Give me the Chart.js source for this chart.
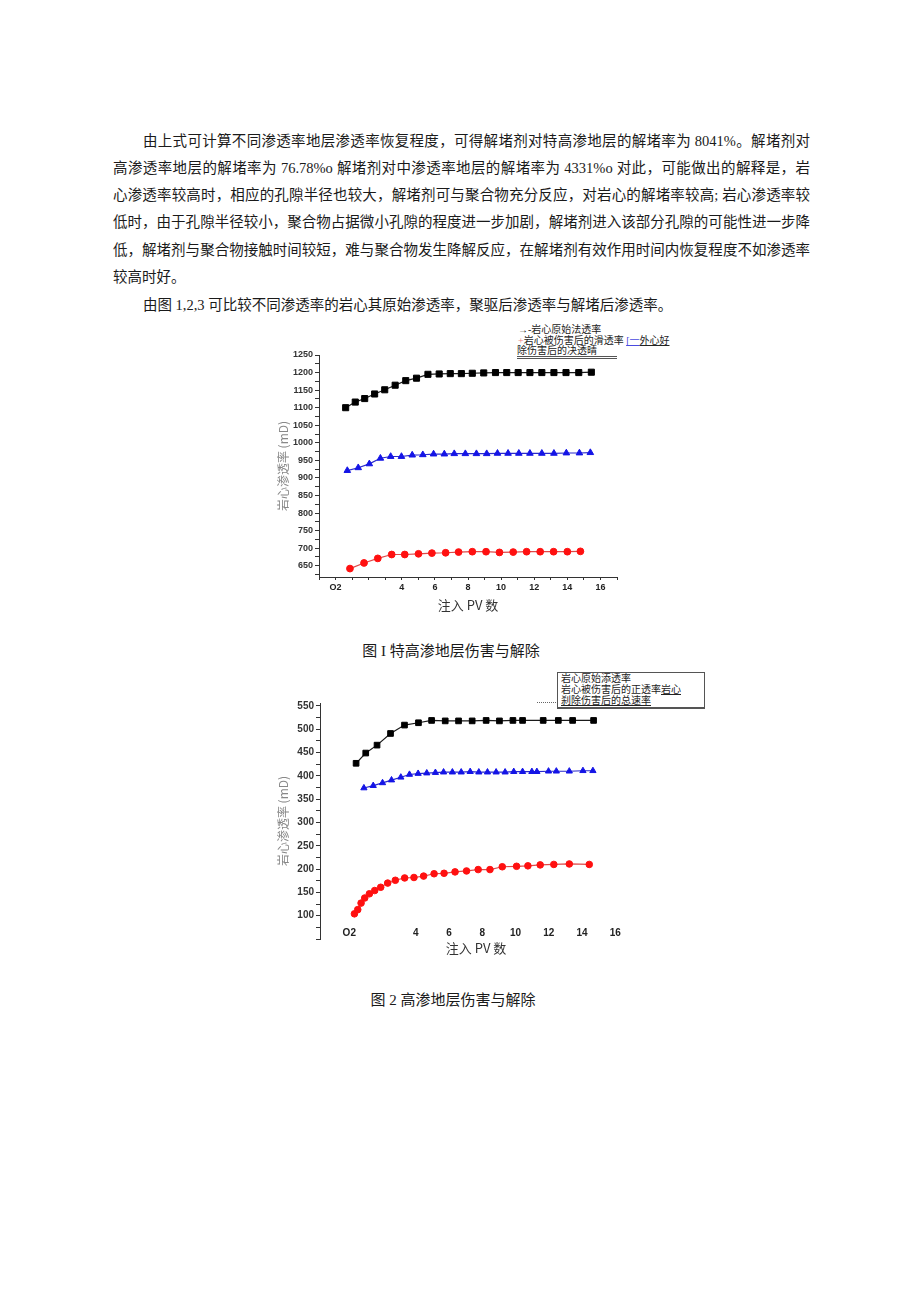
<!DOCTYPE html>
<html>
<head>
<meta charset="utf-8">
<script src="https://cdn.jsdelivr.net/npm/chart.js@4.4.1/dist/chart.umd.min.js"></script>
<style>
  html, body { margin: 0; padding: 0; background: #fff; }
  body { width: 920px; height: 1301px; position: relative; overflow: hidden;
         font-family: "Liberation Serif", "Noto Sans CJK SC", serif; color: #1a1a1a; }
  .line { position: absolute; font-size: 14.5px; line-height: 20px; white-space: nowrap; }
  .full { text-align: justify; text-align-last: justify; white-space: normal; }
  .caption { position: absolute; font-size: 15px; line-height: 20px; width: 300px; text-align: center; }
  canvas { position: absolute; }
  .leg { position: absolute; font-size: 10px; line-height: 11px; white-space: nowrap; color: #222; }
</style>
</head>
<body>

<div class="line full" style="left:143px; top:131px; width:667px;">由上式可计算不同渗透率地层渗透率恢复程度，可得解堵剂对特高渗地层的解堵率为 8041%。解堵剂对</div>
<div class="line full" style="left:113px; top:158px; width:697px;">高渗透率地层的解堵率为 76.78%o 解堵剂对中渗透率地层的解堵率为 4331%o 对此，可能做出的解释是，岩</div>
<div class="line full" style="left:113px; top:185px; width:697px;">心渗透率较高时，相应的孔隙半径也较大，解堵剂可与聚合物充分反应，对岩心的解堵率较高; 岩心渗透率较</div>
<div class="line full" style="left:113px; top:212px; width:697px;">低时，由于孔隙半径较小，聚合物占据微小孔隙的程度进一步加剧，解堵剂进入该部分孔隙的可能性进一步降</div>
<div class="line full" style="left:113px; top:240px; width:697px;">低，解堵剂与聚合物接触时间较短，难与聚合物发生降解反应，在解堵剂有效作用时间内恢复程度不如渗透率</div>
<div class="line" style="left:113px; top:267px;">较高时好。</div>
<div class="line" style="left:143px; top:295px;">由图 1,2,3 可比较不同渗透率的岩心其原始渗透率，聚驱后渗透率与解堵后渗透率。</div>

<!-- chart 1 legend (text as in the scan) -->
<div class="leg" style="left:518px; top:324px;">→-岩心原始法透率</div>
<div class="leg" style="left:518px; top:335px;"><span style="color:#f08080">+</span>岩心被伤害后的滑透率 <span style="color:#4a4ae0; text-decoration:underline">[一</span><span style="text-decoration:underline">外心好</span></div>
<div class="leg" style="left:517px; top:345px; width:100px; border-bottom:3px double #555;">除伤害后的决透晴</div>

<canvas id="chart1" width="400" height="300" style="left:250px; top:330px;"></canvas>
<div class="caption" style="left:301px; top:641px;">图 I 特高渗地层伤害与解除</div>

<!-- chart 2 legend -->
<div style="position:absolute; left:537px; top:702px; width:83px; height:0; border-top:1px dotted #666;"></div>
<div style="position:absolute; left:557px; top:672px; width:146px; height:34px; border:1px solid #555; border-bottom:2px double #555; background:#fff;"></div>
<div class="leg" style="left:561px; top:673px;">岩心原始添透率</div>
<div class="leg" style="left:561px; top:684px;">岩心被伤害后的正透率<span style="text-decoration:underline">岩心</span></div>
<div class="leg" style="left:561px; top:695px; text-decoration:underline;">刹除伤害后的总速率</div>

<canvas id="chart2" width="400" height="310" style="left:250px; top:660px;"></canvas>
<div class="caption" style="left:303px; top:990px;">图 2 高渗地层伤害与解除</div>

<script>
// ---- figure 1: extra-high permeability layer ----
var black1X = [0.61, 1.19, 1.76, 2.36, 2.97, 3.60, 4.24, 4.89, 5.58, 6.26, 6.93, 7.60, 8.26, 8.95, 9.66, 10.34, 11.03, 11.74, 12.46, 13.19, 13.92, 14.69, 15.45];
var black1Y = [1100, 1116, 1126, 1139, 1151, 1164, 1177, 1184, 1195, 1196, 1197, 1197, 1198, 1199, 1200, 1200, 1200, 1200, 1200, 1200, 1200, 1200, 1201];
var blue1X = [0.71, 1.37, 2.04, 2.71, 3.33, 3.98, 4.63, 5.27, 5.92, 6.57, 7.17, 7.84, 8.51, 9.13, 9.78, 10.42, 11.07, 11.74, 12.46, 13.19, 13.94, 14.73, 15.39];
var blue1Y = [921, 929, 940, 956, 961, 961, 965, 966, 968, 968, 969, 969, 969, 969, 970, 970, 970, 970, 970, 970, 971, 971, 972];
var red1X = [0.87, 1.72, 2.55, 3.39, 4.18, 5.01, 5.82, 6.65, 7.43, 8.26, 9.09, 9.90, 10.73, 11.54, 12.36, 13.17, 14.00, 14.79];
var red1Y = [642, 658, 671, 682, 682, 684, 686, 687, 689, 690, 690, 688, 689, 690, 690, 690, 690, 691];
var yTicks1 = [625, 650, 675, 700, 725, 750, 775, 800, 825, 850, 875, 900, 925, 950, 975, 1000, 1025, 1050, 1075, 1100, 1125, 1150, 1175, 1200, 1225, 1250];
var yLabels1 = [650, 700, 750, 800, 850, 900, 950, 1000, 1050, 1100, 1150, 1200, 1250];

// ---- figure 2: high permeability layer ----
var black2X = [0.41, 0.99, 1.67, 2.48, 3.32, 4.16, 4.95, 5.77, 6.57, 7.39, 8.23, 9.03, 9.84, 10.42, 11.66, 12.57, 13.43, 14.69];
var black2Y = [427, 449, 466, 491, 509, 514, 519, 518, 518, 518, 519, 518, 519, 519, 519, 519, 519, 519];
var blue2X = [0.88, 1.44, 2.00, 2.54, 3.10, 3.62, 4.14, 4.66, 5.18, 5.67, 6.20, 6.73, 7.27, 7.79, 8.31, 8.83, 9.37, 9.89, 10.42, 10.98, 11.28, 11.98, 12.45, 13.23, 14.05, 14.65];
var blue2Y = [374, 379, 385, 391, 397, 403, 405, 406, 407, 408, 408, 408, 409, 408, 408, 408, 408, 409, 409, 409, 409, 410, 410, 410, 411, 411];
var red2X = [0.31, 0.51, 0.71, 0.93, 1.21, 1.53, 1.89, 2.31, 2.77, 3.33, 3.89, 4.47, 5.10, 5.70, 6.36, 7.05, 7.75, 8.46, 9.20, 10.06, 10.74, 11.48, 12.30, 13.23, 14.43];
var red2Y = [104, 113, 127, 138, 147, 154, 161, 170, 176, 181, 182, 185, 190, 191, 194, 196, 199, 199, 205, 206, 207, 209, 210, 211, 210];
var yTicks2 = [50, 75, 100, 125, 150, 175, 200, 225, 250, 275, 300, 325, 350, 375, 400, 425, 450, 475, 500, 525, 550];
var yLabels2 = [100, 150, 200, 250, 300, 350, 400, 450, 500, 550];

// shared x axis labels ("O2" is how the scan prints the origin)
var xTickValues = [0, 4, 6, 8, 10, 12, 14, 16];
var xTickText = ['O2', '4', '6', '8', '10', '12', '14', '16'];
var xMinorTicks = [-1, 0, 1, 2, 3, 4, 5, 6, 7, 8, 9, 10, 11, 12, 13, 14, 15, 16, 17];

var yTitle = '岩心渗透率 (mD)';
var xTitle = '注入 PV 数';

function points(xs, ys) {
  return xs.map(function (x, i) { return {x: x, y: ys[i]}; });
}

function series(xs, ys, style, color, lineColor, radius) {
  return {
    data: points(xs, ys),
    borderColor: lineColor,
    borderWidth: 1.2,
    backgroundColor: color,
    pointBackgroundColor: color,
    pointBorderColor: color,
    pointBorderWidth: 1,
    pointStyle: style,
    pointRadius: radius,
    tension: 0,
    fill: false
  };
}

function xLabel(value) {
  var idx = xTickValues.indexOf(value);
  return idx >= 0 ? xTickText[idx] : '';
}

function makeChart(id, cfg) {
  var ctx = document.getElementById(id).getContext('2d');
  return new Chart(ctx, {
    type: 'line',
    data: {
      datasets: [
        series(cfg.blackX, cfg.blackY, 'rect', '#000000', '#1a1a1a', cfg.sq),
        series(cfg.blueX, cfg.blueY, 'triangle', '#1414e6', '#2a2acc', cfg.tri),
        series(cfg.redX, cfg.redY, 'circle', '#ff1010', '#e04848', cfg.dot)
      ]
    },
    options: {
      responsive: false,
      animation: false,
      devicePixelRatio: 1,
      layout: { padding: cfg.padding },
      plugins: { legend: { display: false }, tooltip: { enabled: false } },
      scales: {
        x: {
          type: 'linear',
          min: cfg.xMin,
          max: 17,
          afterBuildTicks: function (scale) {
            scale.ticks = xMinorTicks.filter(function (v) { return v >= cfg.xMin; })
              .map(function (v) { return {value: v}; });
          },
          afterFit: function (scale) { scale.height = cfg.xHeight; },
          border: { display: cfg.xBorder, color: '#333', width: 1 },
          grid: { drawOnChartArea: false, drawTicks: cfg.xBorder, tickLength: 3, color: '#333' },
          ticks: {
            autoSkip: false,
            maxRotation: 0,
            mirror: cfg.xMirror,
            padding: cfg.xPad,
            color: '#222',
            font: { family: 'Liberation Sans', weight: 'bold', size: cfg.tickSize },
            callback: xLabel
          },
          title: {
            display: true,
            text: xTitle,
            color: '#333',
            font: { family: 'Noto Sans CJK SC', size: 13 },
            padding: { top: 0, bottom: cfg.xTitlePad }
          }
        },
        y: {
          type: 'linear',
          min: cfg.yMin,
          max: cfg.yMax,
          afterBuildTicks: function (scale) {
            scale.ticks = cfg.yTicks.map(function (v) { return {value: v}; });
          },
          afterFit: function (scale) { scale.width = cfg.yWidth; },
          border: { display: true, color: '#333', width: 1 },
          grid: { drawOnChartArea: false, tickLength: 4, color: '#333' },
          ticks: {
            autoSkip: false,
            padding: 2,
            color: '#333',
            font: { family: 'Liberation Sans', weight: 'bold', size: cfg.tickSize },
            callback: function (value) {
              return cfg.yLabels.indexOf(value) >= 0 ? String(value) : '';
            }
          },
          title: {
            display: true,
            text: yTitle,
            color: '#888',
            font: { family: 'Noto Sans CJK SC', size: 12 },
            padding: { top: 26, bottom: 0 }
          }
        }
      }
    }
  });
}

makeChart('chart1', {
  blackX: black1X, blackY: black1Y, blueX: blue1X, blueY: blue1Y, redX: red1X, redY: red1Y,
  xMin: -1, yMin: 618, yMax: 1250, yTicks: yTicks1, yLabels: yLabels1,
  padding: { left: 0, top: 25, right: 33, bottom: 0 },
  yWidth: 69, xHeight: 53, xBorder: true, xMirror: false, xPad: 2, xTitlePad: 17,
  tickSize: 9, sq: 4.3, tri: 3.8, dot: 3.4
});

// the x labels of figure 2 sit a little above the bottom of the y axis
makeChart('chart2', {
  blackX: black2X, blackY: black2Y, blueX: blue2X, blueY: blue2Y, redX: red2X, redY: red2Y,
  xMin: -1.76, yMin: 50, yMax: 556.4, yTicks: yTicks2, yLabels: yLabels2,
  padding: { left: 0, top: 43, right: 18, bottom: 0 },
  yWidth: 70, xHeight: 31, xBorder: false, xMirror: true, xPad: 0, xTitlePad: 14,
  tickSize: 10, sq: 4.0, tri: 3.6, dot: 3.3
});
</script>
</body>
</html>
